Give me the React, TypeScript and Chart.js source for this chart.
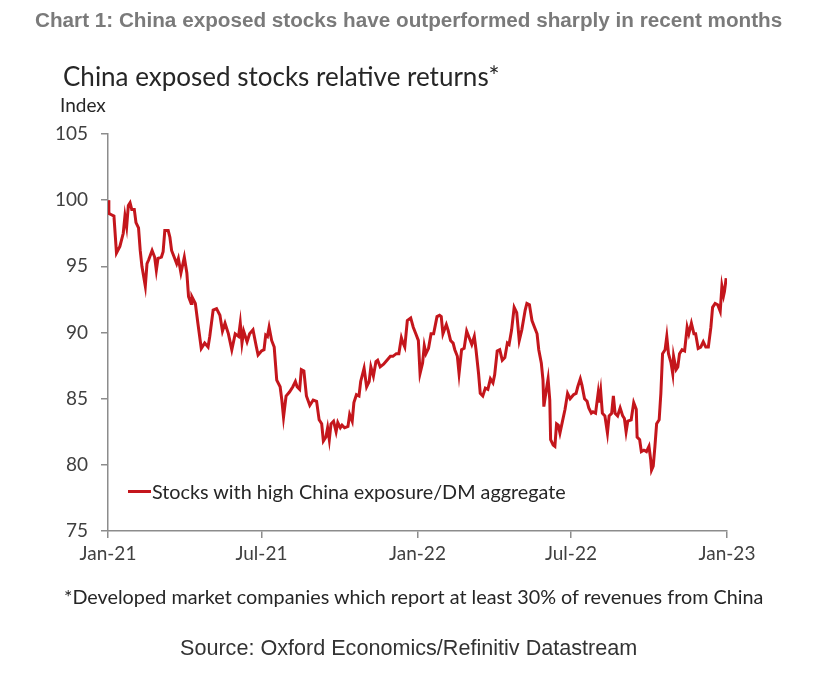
import { useEffect, useRef } from 'react';
import { Chart, registerables } from 'chart.js';

Chart.register(...registerables);

// Days since 1 Jan 2021
const dayOffsets = [
  0, 1, 4, 7, 10, 14, 18, 20, 22, 24, 26, 28, 31, 33, 36, 38, 40, 44, 46, 48, 52, 55, 57, 59, 63, 65, 67, 71, 73, 75, 78, 81, 83, 86, 90, 93, 95, 98, 99, 103,
  106, 110, 114, 118, 120, 122, 124, 128, 132, 135, 138, 142, 146, 150, 154, 156, 158, 160, 164, 167, 171, 175, 177, 181, 184, 186, 188, 190, 193, 196,
  199, 203, 205, 207, 210, 214, 218, 221, 223, 226, 228, 231, 234, 238, 242, 246, 249, 252, 254, 257, 259, 261, 263, 266, 269, 271, 274, 276, 279, 283,
  285, 288, 290, 293, 296, 298, 302, 305, 308, 310, 313, 316, 318, 321, 325, 329, 333, 336, 340, 343, 346, 348, 350, 353, 357, 360, 363, 366, 368, 371,
  373, 375, 378, 381, 384, 388, 391, 393, 395, 399, 401, 404, 407, 409, 412, 414, 417, 420, 423, 426, 429, 432, 434, 437, 439, 442, 445, 448, 451, 454,
  456, 459, 462, 465, 468, 471, 473, 476, 479, 482, 485, 488, 492, 494, 497, 500, 503, 506, 508, 511, 513, 514, 517, 519, 521, 522, 525, 527, 529, 531,
  533, 536, 539, 542, 545, 549, 552, 554, 557, 559, 562, 565, 567, 570, 572, 575, 578, 579, 581, 583, 586, 589, 591, 594, 596, 598, 601, 604, 607, 609,
  611, 613, 617, 620, 623, 624, 627, 629, 632, 635, 638, 640, 641, 643, 645, 647, 650, 652, 654, 657, 659, 661, 664, 666, 667, 670, 672, 674, 677, 680,
  683, 685, 688, 691, 693, 696, 699, 702, 705, 708, 711, 713, 716, 719, 722, 724, 726, 727, 729,
];

const indexValues = [
  100.0, 99.0, 98.9, 98.8, 96.0, 96.5, 97.5, 98.8, 98.0, 99.6, 99.8, 99.3, 99.3, 98.3, 97.9, 96.2, 95.0, 93.5, 95.2, 95.5, 96.2, 95.7, 94.7, 95.6, 95.7, 96.1, 97.7, 97.7, 97.2, 96.2, 95.7, 95.2, 95.6, 94.5, 95.7, 94.5, 92.7, 92.2, 92.7, 92.2,
  90.7, 88.8, 89.2, 88.9, 89.7, 90.7, 91.7, 91.8, 91.3, 90.1, 90.7, 89.9, 88.7, 89.9, 89.7, 90.7, 89.2, 90.1, 89.3, 89.9, 90.2, 88.9, 88.3, 88.6, 88.7, 89.8, 89.7, 90.4, 89.4, 88.9,
  86.4, 85.9, 84.9, 83.6, 85.2, 85.5, 85.9, 86.3, 85.9, 85.7, 87.2, 87.1, 85.2, 84.5, 84.9, 84.8, 83.4, 83.1, 81.8, 82.1, 82.8, 81.9, 83.1, 83.3, 82.5, 83.2, 82.8, 83.0, 82.8, 82.9,
  83.8, 83.3, 84.7, 85.3, 85.2, 86.3, 87.3, 85.9, 86.3, 87.4, 86.7, 87.8, 87.9, 87.4, 87.6, 87.9, 88.2, 88.2, 88.4, 88.4, 89.6, 89.2, 88.9, 90.9, 91.1, 90.4, 89.9, 89.4, 86.9, 87.7,
  89.0, 88.4, 88.8, 89.9, 89.9, 91.2, 91.3, 91.2, 89.9, 90.6, 90.2, 89.4, 89.2, 88.7, 88.2, 86.9, 88.7, 88.8, 90.1, 89.6, 89.1, 89.7, 88.7, 86.9, 85.4, 85.2, 85.8, 85.7, 86.5, 86.2,
  86.8, 88.6, 88.7, 87.9, 88.1, 89.2, 89.1, 90.2, 91.9, 91.5, 89.4, 90.2, 91.7, 92.2, 92.1, 90.9, 90.4, 89.9, 88.7, 87.7, 86.4, 84.4, 85.7, 86.5, 84.9, 81.9, 81.5, 81.4, 83.1, 83.0,
  82.4, 83.3, 84.2, 85.4, 85.0, 85.3, 85.4, 85.9, 86.5, 86.0, 85.0, 84.8, 84.3, 83.9, 84.0, 83.9, 85.4, 84.7, 85.6, 83.9, 83.7, 82.4, 83.7, 83.9, 85.2, 83.9, 83.7, 84.3, 83.7, 83.5,
  82.5, 83.3, 83.4, 84.7, 84.2, 82.1, 81.9, 81.0, 81.1, 81.0, 81.4, 80.4, 79.6, 79.9, 81.4, 83.1, 83.4, 85.4, 88.4, 88.7, 89.7, 88.4, 87.7, 86.9, 88.2, 87.2, 87.4, 88.4, 88.7, 88.6,
  90.4, 89.9, 90.7, 89.9, 89.9, 88.8, 88.9, 89.3, 88.9, 88.9, 90.4, 91.9, 92.2, 92.1, 91.6, 93.5, 92.8, 93.1, 94.1,
];

const tickDays = [0, 181, 365, 546, 730];
const tickLabels = ['Jan-21', 'Jul-21', 'Jan-22', 'Jul-22', 'Jan-23'];
const yTicks = [75, 80, 85, 90, 95, 100, 105];

const seriesLabel = 'Stocks with high China exposure/DM aggregate';
const titleText = 'Chart 1: China exposed stocks have outperformed sharply in recent months';
const subtitleText = 'China exposed stocks relative returns*';
const unitText = 'Index';
const footnoteText = '*Developed market companies which report at least 30% of revenues from China';
const sourceText = 'Source: Oxford Economics/Refinitiv Datastream';

const RED = '#C4161C';
const AXIS = '#8C8C8C';
const CAL = 'Lato, "Open Sans", sans-serif';
const ARIAL = '"Liberation Sans", Arial, sans-serif';

function Txt(props: { text: string; left: number; cy: number; size: number; color: string; family: string; weight?: number; h?: number }) {
  const h = props.h ?? Math.round(props.size * 1.3);
  return (
    <div
      style={{
        position: 'absolute',
        left: props.left,
        top: props.cy - h / 2,
        height: h,
        lineHeight: `${h}px`,
        fontSize: props.size,
        fontFamily: props.family,
        fontWeight: props.weight ?? 400,
        color: props.color,
        whiteSpace: 'nowrap',
      }}
    >
      {props.text}
    </div>
  );
}

export default function App() {
  const ref = useRef<HTMLCanvasElement>(null);

  useEffect(() => {
    const chart = new Chart(ref.current as HTMLCanvasElement, {
      type: 'line',
      data: {
        datasets: [
          {
            label: seriesLabel,
            data: dayOffsets.map((d, i) => ({ x: d, y: indexValues[i] })),
            borderColor: RED,
            backgroundColor: RED,
            borderWidth: 3,
            pointRadius: 0,
            tension: 0,
            fill: false,
          },
        ],
      },
      options: {
        responsive: false,
        animation: false,
        layout: { padding: { top: 134, right: 87, bottom: 102, left: 0 } },
        plugins: { legend: { display: false }, tooltip: { enabled: false }, title: { display: false } },
        scales: {
          x: {
            type: 'linear',
            min: 0,
            max: 730,
            afterBuildTicks: (s: any) => {
              s.ticks = tickDays.map((v) => ({ value: v }));
            },
            afterFit: (s: any) => {
              s.height = 40;
            },
            grid: { drawOnChartArea: false, drawTicks: true, tickLength: 7, color: AXIS, lineWidth: 1.5 },
            border: { display: true, color: AXIS, width: 1.5 },
            ticks: {
              callback: (v: any) => {
                const i = tickDays.indexOf(Number(v));
                return i >= 0 ? tickLabels[i] : '';
              },
              autoSkip: false,
              maxRotation: 0,
              padding: 4,
              color: '#404040',
              font: { family: CAL, size: 19 },
            },
          },
          y: {
            type: 'linear',
            min: 75,
            max: 105,
            afterBuildTicks: (s: any) => {
              s.ticks = yTicks.map((v) => ({ value: v }));
            },
            afterFit: (s: any) => {
              s.width = 108;
            },
            grid: { drawOnChartArea: false, drawTicks: true, tickLength: 7, color: AXIS, lineWidth: 1.5 },
            border: { display: true, color: AXIS, width: 1.5 },
            ticks: {
              padding: 13,
              color: '#404040',
              font: { family: CAL, size: 19 },
            },
          },
        },
      },
    });
    return () => chart.destroy();
  }, []);

  return (
    <div style={{ position: 'absolute', left: 0, top: 0, width: 814, height: 673, background: '#fff', overflow: 'hidden' }}>
      <canvas ref={ref} width={814} height={673} style={{ position: 'absolute', left: 0, top: 0, width: 814, height: 673 }} />
      <Txt text={titleText} left={35} cy={19} size={20.7} color="#7a7a7a" family={ARIAL} weight={700} />
      <Txt text={subtitleText} left={63} cy={76} size={26} color="#262626" family={CAL} />
      <Txt text={unitText} left={60} cy={104} size={19} color="#262626" family={CAL} />
      <div style={{ position: 'absolute', left: 128, top: 490, width: 23, height: 3, background: RED }} />
      <Txt text={seriesLabel} left={152} cy={491} size={19.8} color="#262626" family={CAL} />
      <Txt text={footnoteText} left={64} cy={596} size={19.8} color="#262626" family={CAL} />
      <Txt text={sourceText} left={180} cy={648} size={21.6} color="#333333" family={ARIAL} />
    </div>
  );
}
